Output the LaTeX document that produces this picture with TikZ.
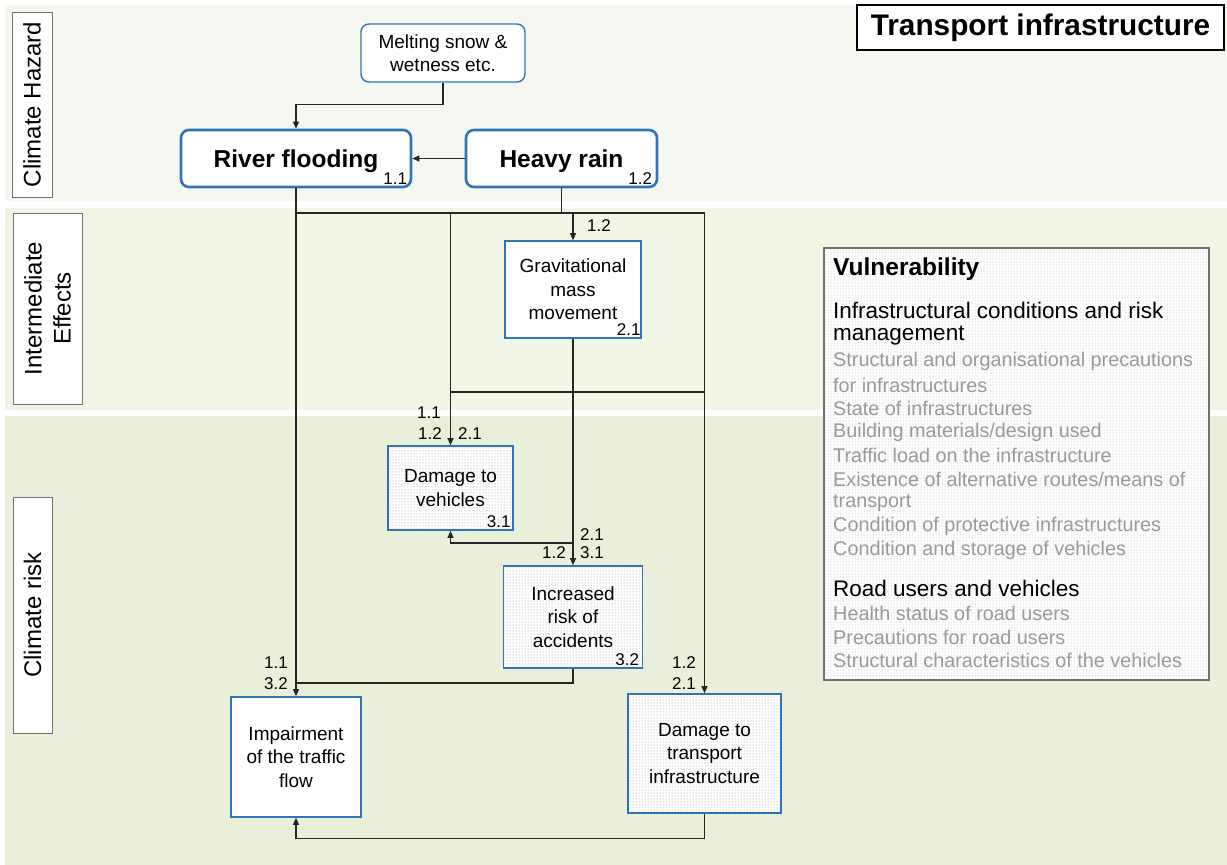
\documentclass[tikz,border=0pt]{standalone}
\usepackage{fontspec}
\setmainfont{Liberation Sans}
\usetikzlibrary{arrows.meta,patterns}

\definecolor{bandA}{HTML}{F5F7F0}
\definecolor{bandB}{HTML}{F1F5E6}
\definecolor{bandC}{HTML}{EAEFD9}
\definecolor{boxblue}{HTML}{2E75B6}
\definecolor{vulnframe}{HTML}{7B6E64}
\definecolor{softtext}{HTML}{9A9A9A}
\definecolor{wire}{HTML}{262626}

\newcommand\myfs[2]{\fontsize{#1}{#2}\selectfont}

\begin{document}
\begin{tikzpicture}[x=1pt,y=-1pt,
  bandlabel/.style={draw=black!55, line width=0.8, fill=white, rotate=90,
    inner sep=0, align=center, font=\myfs{24}{29}},
  hazard/.style={draw=boxblue, line width=2.6, rounded corners=8, fill=white,
    inner sep=0, text depth=0pt, font=\bfseries\myfs{24.5}{29}},
  source/.style={draw=boxblue, line width=1.4, rounded corners=8, fill=white,
    inner sep=0, align=center, font=\myfs{19}{23}},
  effect/.style={draw=boxblue, line width=1.6, fill=white,
    inner sep=0, align=center, font=\myfs{19}{23.5}},
  dotted box/.style={effect, preaction={fill=white}, pattern=dots,
    pattern color=black!40},
  tag/.style={inner sep=0, font=\myfs{17}{20}},
  wirepath/.style={draw=wire, line width=1.1},
  arr/.style={wirepath, -{Triangle[length=7pt,width=6pt]}},
  vline/.style={inner sep=0, anchor=west, font=\myfs{19.8}{23}, text=softtext},
  vhead/.style={inner sep=0, anchor=west, font=\myfs{22.5}{26}, text=black},
]
\useasboundingbox (0,0) rectangle (1227,865);

% background bands
\fill[bandA] (5,5) rectangle (1227,201);
\fill[bandB] (5,208) rectangle (1227,410);
\fill[bandC] (5,416) rectangle (1227,865);

% band labels
\node[bandlabel, minimum width=185, minimum height=40] (lblA) at (32,104.5) {Climate Hazard};
\node[bandlabel, minimum width=191, minimum height=69] (lblB) at (47.5,308.5) {Intermediate\\Effects};
\node[bandlabel, minimum width=236, minimum height=39] (lblC) at (32.5,615) {Climate risk};

% title
\node[draw=black, line width=2, fill=white, minimum width=367, minimum height=45,
  inner sep=0, font=\bfseries\myfs{29.8}{34}] (title) at (1040.5,27.5) {Transport infrastructure};

% hazards
\node[source, minimum width=164, minimum height=58] (ms) at (443,53) {Melting snow \&\\wetness etc.};
\node[hazard, minimum width=230, minimum height=57] (rf) at (296,158.5) {River flooding};
\node[hazard, minimum width=191, minimum height=57] (hr) at (561.5,158.5) {Heavy rain};
\node[tag, anchor=south east] (rfn) at ([xshift=-5pt,yshift=4pt]rf.south east) {1.1};
\node[tag, anchor=south east] (hrn) at ([xshift=-6pt,yshift=4pt]hr.south east) {1.2};

% intermediate effect
\node[effect, minimum width=136, minimum height=97] (gm) at (573,289.5) {Gravitational\\mass\\movement};
\node[tag, anchor=south east] (gmn) at ([xshift=-1pt,yshift=3pt]gm.south east) {2.1};

% risks
\node[dotted box, minimum width=125, minimum height=84] (dv) at (450.5,488) {Damage to\\vehicles};
\node[tag, anchor=south east] (dvn) at ([xshift=-3pt,yshift=3pt]dv.south east) {3.1};
\node[dotted box, minimum width=139, minimum height=102] (ir) at (573,617) {Increased\\risk of\\accidents};
\node[tag, anchor=south east] (irn) at ([xshift=-4pt,yshift=3pt]ir.south east) {3.2};
\node[effect, minimum width=130, minimum height=120] (imp) at (296,757) {Impairment\\of the traffic\\flow};
\node[dotted box, minimum width=153, minimum height=119] (dt) at (704.5,753.5) {Damage to\\transport\\infrastructure};

% junction points of the wiring
\coordinate (busL) at (296,213);
\coordinate (busR) at (704.5,213);
\coordinate (crossL) at (450.5,392);
\coordinate (crossR) at (704.5,392);
\coordinate (split) at (573,543);
\coordinate (merge) at (296,683);

% connectors
\draw[arr] (ms.south) -- ++(0,22) -| (rf.north);
\draw[arr] (hr.west) -- (rf.east);
\draw[wirepath] (rf.south) -- (busL) -- (busR);
\draw[wirepath] (hr.south) -- (hr.south |- busL);
\draw[arr] (gm.north |- busL) -- (gm.north);
\draw[arr] (busL) -- (imp.north);
\draw[arr] (dv.north |- busL) -- (dv.north);
\draw[arr] (busR) -- (dt.north);
\draw[wirepath] (crossL) -- (crossR);
\draw[arr] (gm.south) -- (ir.north);
\draw[arr] (split) -| (dv.south);
\draw[wirepath] (ir.south) |- (merge);
\draw[arr] (dt.south) -- ++(0,25) -| (imp.south);

% connector tags
\node[tag] (t1) at (599,226) {1.2};
\node[tag] (t2) at (429,413) {1.1};
\node[tag] (t3) at (430,434) {1.2};
\node[tag] (t4) at (470,434) {2.1};
\node[tag] (t5) at (592,535) {2.1};
\node[tag] (t6) at (592,553) {3.1};
\node[tag] (t7) at (554,553) {1.2};
\node[tag] (t8) at (276,663) {1.1};
\node[tag] (t9) at (276,684) {3.2};
\node[tag] (t10) at (684,663) {1.2};
\node[tag] (t11) at (684,684) {2.1};

% vulnerability panel
\node[draw=vulnframe, line width=2.8, preaction={fill=white}, pattern=dots,
  pattern color=black!32, minimum width=385, minimum height=432, inner sep=0] (vuln) at (1016.5,464) {};
\node[inner sep=0, anchor=west, font=\bfseries\myfs{24.5}{28}] (v0) at (833,269) {Vulnerability};
\node[vhead] (v1) at (833,310) {Infrastructural conditions and risk};
\node[vhead] (v2) at (833,336) {management};
\foreach \txt/\yy [count=\i] in {
  Structural and organisational precautions/361,
  for infrastructures/385,
  State of infrastructures/408,
  Building materials\slash design used/432,
  Traffic load on the infrastructure/455,
  Existence of alternative routes\slash means of/479,
  transport/503,
  Condition of protective infrastructures/526,
  Condition and storage of vehicles/550}
  \node[vline] (va\i) at (833,\yy) {\txt};
\node[vhead] (v3) at (833,588) {Road users and vehicles};
\foreach \txt/\yy [count=\i] in {
  Health status of road users/613,
  Precautions for road users/637,
  Structural characteristics of the vehicles/660}
  \node[vline] (vb\i) at (833,\yy) {\txt};
\end{tikzpicture}
\end{document}
